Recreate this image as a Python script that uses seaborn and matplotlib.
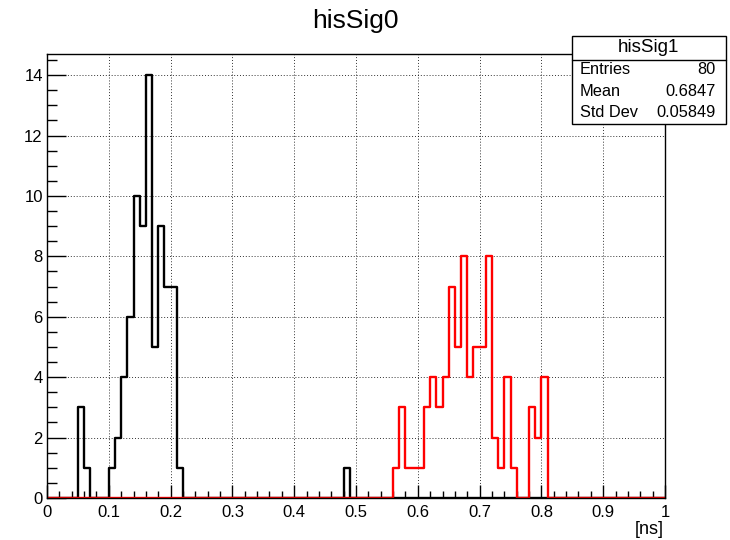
import matplotlib
matplotlib.use("Agg")
import matplotlib.pyplot as plt
import seaborn as sns
import pandas as pd
from matplotlib.ticker import MultipleLocator, FormatStrFormatter
from matplotlib.patches import Rectangle
from matplotlib.lines import Line2D

# hisSig0: lower bin edges [ns] and entries (bin width 0.01 ns, range 0-1)
sig0_bin_low = [0.05, 0.06, 0.10, 0.11, 0.12, 0.13, 0.14, 0.15, 0.16, 0.17,
                0.18, 0.19, 0.20, 0.21, 0.48]
sig0_counts = [3, 1, 1, 2, 4, 6, 10, 9, 14, 5, 9, 7, 7, 1, 1]

# hisSig1: lower bin edges [ns] and entries
sig1_bin_low = [0.56, 0.57, 0.58, 0.59, 0.60, 0.61, 0.62, 0.63, 0.64, 0.65,
                0.66, 0.67, 0.68, 0.69, 0.70, 0.71, 0.72, 0.73, 0.74, 0.75,
                0.78, 0.79, 0.80]
sig1_counts = [1, 3, 1, 1, 1, 3, 4, 3, 4, 7, 5, 8, 4, 5, 5, 8, 2, 1, 4, 1,
               3, 2, 4]

# statistics box of hisSig1
stats_title = "hisSig1"
stats_rows = [("Entries", "80"), ("Mean", "0.6847"), ("Std Dev", "0.05849")]

n_bins = 100
x_range = (0.0, 1.0)
bin_width = (x_range[1] - x_range[0]) / n_bins

sns.set_theme(style="white")
plt.rcParams["font.family"] = ["Liberation Sans", "DejaVu Sans"]

fig = plt.figure(figsize=(7.3, 5.4), dpi=100)
ax = fig.add_axes([47 / 730, 1 - 498 / 540, 618 / 730, 444 / 540])


def hist_frame(lows, counts):
    return pd.DataFrame({"t": [lo + bin_width / 2 for lo in lows],
                         "n": counts})


for lows, counts, col in [(sig0_bin_low, sig0_counts, "black"),
                          (sig1_bin_low, sig1_counts, "red")]:
    sns.histplot(data=hist_frame(lows, counts), x="t", weights="n",
                 bins=n_bins, binrange=x_range, element="step", fill=False,
                 color=col, linewidth=1.7, ax=ax)

ax.set_xlim(*x_range)
ax.set_ylim(0, 14.7)
ax.set_xlabel("")
ax.set_ylabel("")

ax.xaxis.set_major_locator(MultipleLocator(0.1))
ax.xaxis.set_minor_locator(MultipleLocator(0.02))
ax.xaxis.set_major_formatter(FormatStrFormatter("%g"))
ax.yaxis.set_major_locator(MultipleLocator(2))
ax.yaxis.set_minor_locator(MultipleLocator(0.5))

ax.tick_params(axis="x", which="major", direction="in", length=9.5,
               width=1, color="black", labelsize=12, pad=5,
               bottom=True, top=False)
ax.tick_params(axis="x", which="minor", direction="in", length=5,
               width=1, color="black", bottom=True, top=False)
ax.tick_params(axis="y", which="major", direction="in", length=14,
               width=1, color="black", labelsize=12, pad=3,
               left=True, right=False)
ax.tick_params(axis="y", which="minor", direction="in", length=7,
               width=1, color="black", left=True, right=False)
for lab in ax.get_xticklabels() + ax.get_yticklabels():
    lab.set_color("black")

for sp in ax.spines.values():
    sp.set_color("black")
    sp.set_linewidth(1)

ax.set_axisbelow(True)
ax.grid(True, which="major", linestyle=(0, (1, 2)), color="black",
        linewidth=0.7, alpha=0.8)

# title and axis unit
fig.text(355 / 730, 1 - 27.7 / 540, "hisSig0", ha="center", va="baseline",
         fontsize=19, color="black")
fig.text(664 / 730, 1 - 529 / 540, "[ns]", ha="right", va="center",
         fontsize=13, color="black")

# statistics box
bx0, bx1 = 571.5 / 730, 725.5 / 730
by_top, by_bot = 1 - 36 / 540, 1 - 124 / 540
fig.patches.append(Rectangle((bx0, by_bot), bx1 - bx0, by_top - by_bot,
                             transform=fig.transFigure, facecolor="white",
                             edgecolor="black", linewidth=1, zorder=5))
fig.lines.append(Line2D([bx0, bx1], [1 - 60 / 540] * 2,
                        transform=fig.transFigure, color="black",
                        linewidth=1, zorder=6))
fig.text((bx0 + bx1) / 2, 1 - 47.5 / 540, stats_title, ha="center",
         va="center", fontsize=13.5, color="black", zorder=7)
row_y = [70, 91.5, 112.5]
for (name, val), yy in zip(stats_rows, row_y):
    fig.text(580 / 730, 1 - yy / 540, name, ha="left", va="center",
             fontsize=11.8, color="black", zorder=7)
    fig.text(716 / 730, 1 - yy / 540, val, ha="right", va="center",
             fontsize=11.8, color="black", zorder=7)

fig.savefig("out.png", dpi=100)
